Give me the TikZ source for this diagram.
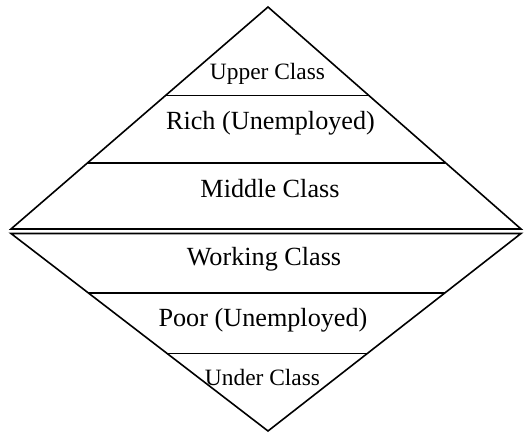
\documentclass[tikz,border=0pt]{standalone}
\usepackage{fontspec}
\setmainfont{Liberation Serif}
\usetikzlibrary{calc}
\begin{document}
\begin{tikzpicture}[x=1bp,y=-1bp, line width=1.6bp,
  lbl/.style={anchor=base, inner sep=0pt, font=\fontsize{26.3}{30}\selectfont},
  sml/.style={anchor=base, inner sep=0pt, font=\fontsize{23.5}{27}\selectfont}]
\useasboundingbox (0,0) rectangle (524,433);
\coordinate (T) at (268,7);
\coordinate (L1) at (11,229);
\coordinate (R1) at (521,229);
\coordinate (L2) at (11,233.5);
\coordinate (R2) at (521,233.5);
\coordinate (B) at (268,431);
% upper triangle
\draw (T) -- (R1) -- (L1) -- cycle;
% lower triangle
\draw (L2) -- (R2) -- (B) -- cycle;
% layer lines, upper
\draw ($(T)!0.3995!(L1)$) coordinate (u1l) -- ($(T)!0.3995!(R1)$) coordinate (u1r);
\draw ($(T)!0.7014!(L1)$) coordinate (u2l) -- ($(T)!0.7014!(R1)$) coordinate (u2r);
% layer lines, lower
\draw ($(B)!0.6987!(L2)$) coordinate (d1l) -- ($(B)!0.6987!(R2)$) coordinate (d1r);
\draw ($(B)!0.393!(L2)$) coordinate (d2l) -- ($(B)!0.393!(R2)$) coordinate (d2r);
% labels
\node[sml] (upper) at (267.5,80) {Upper Class};
\node[lbl] (rich) at (270.5,130) {Rich (Unemployed)};
\node[lbl] (middle) at (270,197.7) {Middle Class};
\node[lbl] (working) at (264,265.7) {Working Class};
\node[lbl] (poor) at (263,326.7) {Poor (Unemployed)};
\node[sml] (under) at (262.5,385.7) {Under Class};
\end{tikzpicture}
\end{document}
